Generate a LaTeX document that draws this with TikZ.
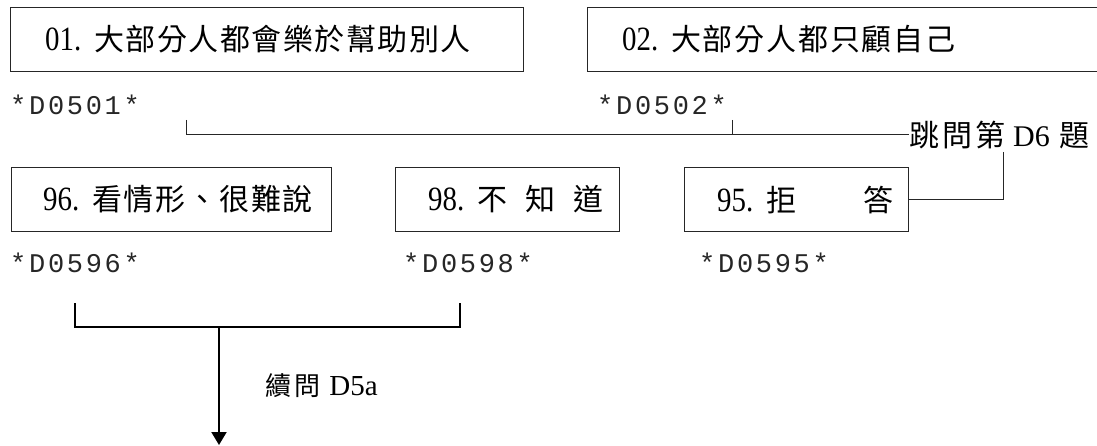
\documentclass[tikz,border=0pt]{standalone}
\usepackage{fontspec}
\setmainfont{Liberation Serif}
\newfontfamily\cjkf{Noto Sans CJK TC}
\newfontfamily\monof{Liberation Mono}[LetterSpace=10]
\usetikzlibrary{arrows.meta}
\newcommand\numtxt[1]{\makebox[49pt][l]{\scalebox{0.85}[1]{\fontsize{34}{36}\selectfont #1}}}
\newcommand\cjktxt[3][30]{{\fontsize{#1}{36}\cjkf\addfontfeature{LetterSpace=#2}#3}}
\newcommand\latx[2][30]{{\fontsize{#1}{36}\selectfont #2}}
\tikzset{
  box/.style={draw=black!85, line width=1.1pt, inner sep=0pt, anchor=north west, minimum height=64pt},
  lbl/.style={inner sep=0pt, anchor=west, text=black},
  code/.style={inner sep=0pt, anchor=west, font=\fontsize{27}{30}\monof, text=black!85},
  conn/.style={draw=black!85, line width=1pt},
  brk/.style={draw=black, line width=1.6pt},
}
\begin{document}
\begin{tikzpicture}[x=1pt,y=-1pt]
\useasboundingbox (0,0) rectangle (1097,446);
% top boxes
\node[box, minimum width=513pt] (b01) at (10,7) {};
\node[lbl] (t01) at ([xshift=35pt]b01.west) {\numtxt{01.}\cjktxt{5}{大部分人都會樂於幫助別人}};
\node[box, minimum width=540pt] (b02) at (587,7) {};
\node[lbl] (t02) at ([xshift=35pt]b02.west) {\numtxt{02.}\cjktxt{6}{大部分人都只顧自己}};
% codes
\node[code] (c01) at (10,105) {*D0501*};
\node[code] (c02) at (597,105) {*D0502*};
% skip label
\node[lbl] (skip) at (909,135) {\cjktxt{10}{跳問第}\hspace{8pt}\latx{D6}\hspace{10pt}\cjktxt{0}{題}};
\coordinate (j1) at (186,120);
\coordinate (j2) at (732,120);
\draw[conn] (j1) |- (skip.west);
\draw[conn] (j2) -- (j2 |- skip.west);
% bottom boxes
\node[box, minimum width=320pt] (b96) at (11,167) {};
\node[lbl] (t96) at ([xshift=32pt]b96.west) {\numtxt{96.}\cjktxt{6}{看情形、很難說}};
\node[box, minimum width=224pt] (b98) at (395,167) {};
\node[lbl] (t98) at ([xshift=33pt]b98.west) {\numtxt{98.}\cjktxt{0}{不\hspace{18pt}知\hspace{18pt}道}};
\node[box, minimum width=224pt] (b95) at (684,167) {};
\node[lbl] (t95) at ([xshift=33pt]b95.west) {\numtxt{95.}\cjktxt{0}{拒\hspace{67pt}答}};
\coordinate (k) at (1003,152);
\draw[conn] (k) |- (b95.east);
% bottom codes
\node[code] (c96) at (10,263) {*D0596*};
\node[code] (c98) at (403,263) {*D0598*};
\node[code] (c95) at (699,263) {*D0595*};
% bracket and arrow
\coordinate (L) at (75,303);
\coordinate (R) at (460,303);
\coordinate (m) at (219,327);
\coordinate (e) at (219,445);
\draw[brk] (L) |- (R |- m) -- (R);
\draw[brk, line width=2pt, -{Triangle[width=15pt,length=13pt]}] (m) -- (e);
\node[lbl] (cont) at (265,386) {\cjktxt[26]{12}{續問}\hspace{9pt}\latx[29]{D5a}};
\end{tikzpicture}
\end{document}
